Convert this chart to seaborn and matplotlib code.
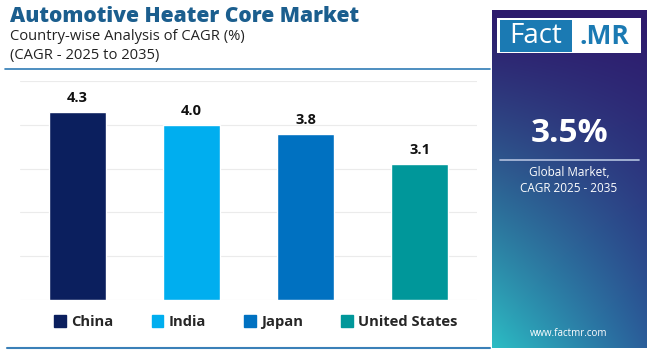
import numpy as np
import pandas as pd
import matplotlib
matplotlib.use("Agg")
import matplotlib.pyplot as plt
import seaborn as sns
from matplotlib.patches import Rectangle, Patch

countries = ["China", "India", "Japan", "United States"]
cagr = [4.3, 4.0, 3.8, 3.1]
colors = ["#0b1f5e", "#00aeef", "#0071c1", "#00979a"]
title = "Automotive Heater Core Market"
subtitle1 = "Country-wise Analysis of CAGR (%)"
subtitle2 = "(CAGR - 2025 to 2035)"
global_cagr = "3.5%"

sns.set_theme(style="white")
plt.rcParams['font.family'] = ['Open Sans', 'DejaVu Sans']

W, H = 650, 350
fig = plt.figure(figsize=(6.5, 3.5), dpi=100)
fig.patch.set_facecolor("white")

def fx(x):
    return x / W
def fy(y):
    return 1 - y / H

# Main axes: x 20-477, y 81-300
ax = fig.add_axes([fx(20), fy(300), (477 - 20) / W, (300 - 81) / H])
df = pd.DataFrame({"country": countries, "cagr": cagr})
sns.barplot(data=df, x="country", y="cagr", hue="country", palette=colors,
            width=0.5, ax=ax, legend=False, saturation=1)
ax.set_ylim(0, 5)
ax.set_xlim(-0.5, 3.5)
ax.set_yticks([0, 1, 2, 3, 4, 5])
ax.yaxis.grid(True, color="#ebebeb", linewidth=0.8)
ax.set_axisbelow(True)
ax.set_xticks([])
ax.set_yticklabels([])
ax.tick_params(left=False, bottom=False)
ax.set_xlabel("")
ax.set_ylabel("")
for s in ax.spines.values():
    s.set_visible(False)
for i, v in enumerate(cagr):
    ax.annotate(f"{v:.1f}", (i, v), xytext=(0, 5), textcoords="offset points",
                ha="center", va="bottom", fontsize=10.5, fontweight="bold", color="#111111")

# Titles
fig.text(fx(10), fy(16), title, fontsize=15.1, fontweight="heavy", color="#1b5e8e",
         ha="left", va="center")
fig.text(fx(10), fy(37), subtitle1, fontsize=10.6, color="#222222", ha="left", va="center")
fig.text(fx(10), fy(56), subtitle2, fontsize=10.6, color="#222222", ha="left", va="center")

# Separator lines
fig.add_artist(plt.Line2D([fx(5), fx(490)], [fy(68.5), fy(68.5)], color="#2f7bb5", lw=1.2))
fig.add_artist(plt.Line2D([fx(7), fx(490)], [fy(348), fy(348)], color="#3a80b8", lw=1.5))

# Legend
handles = [Patch(facecolor=c, edgecolor=c, label=n) for c, n in zip(colors, countries)]
leg = fig.legend(handles=handles, loc="center", bbox_to_anchor=(fx(256), fy(322)),
                 ncol=4, frameon=False, handlelength=0.8, handleheight=0.8,
                 handletextpad=0.35, columnspacing=2.6,
                 prop={"weight": "bold", "size": 10.6})

# Right panel gradient
pax = fig.add_axes([fx(492), fy(348), (647 - 492) / W, (348 - 10) / H])
ny, nx = 200, 100
yy, xx = np.mgrid[0:1:ny * 1j, 0:1:nx * 1j]
top = np.array([0x2e, 0x1a, 0x6c]) / 255
bl = np.array([0x2c, 0xbd, 0xc4]) / 255
br = np.array([0x2a, 0x5e, 0x9a]) / 255
t = yy ** 1.2
bottom = bl[None, None, :] * (1 - xx[..., None]) + br[None, None, :] * xx[..., None]
img = top[None, None, :] * (1 - t[..., None]) + bottom * t[..., None]
pax.imshow(img, aspect="auto", extent=[0, 1, 1, 0], interpolation="bilinear")
pax.set_xlim(0, 1)
pax.set_ylim(1, 0)
pax.axis("off")

# Logo
fig.add_artist(Rectangle((fx(497), fy(53)), (641 - 497) / W, (53 - 18) / H,
                         transform=fig.transFigure, facecolor="white", edgecolor="none"))
fig.add_artist(Rectangle((fx(500), fy(51.5)), (572 - 500) / W, (51.5 - 20) / H,
                         transform=fig.transFigure, facecolor="#1b7ab3", edgecolor="none"))
fig.text(fx(536), fy(36), "Fact", fontsize=20, color="white", ha="center", va="center")
fig.text(fx(604), fy(36), ".MR", fontsize=19, color="#1b7ab3", fontweight="bold",
         ha="center", va="center")

fig.text(fx(569), fy(133), global_cagr, fontsize=24, fontweight="bold", color="white",
         ha="center", va="center")
fig.add_artist(plt.Line2D([fx(500), fx(639)], [fy(160), fy(160)], color="#a9b8d8", lw=1.3))
fig.text(fx(569), fy(173), "Global Market,", fontsize=8.5, color="white", ha="center", va="center")
fig.text(fx(569), fy(189), "CAGR 2025 - 2035", fontsize=8.5, color="white", ha="center", va="center")
fig.text(fx(569), fy(333), "www.factmr.com", fontsize=7, color="white", ha="center", va="center")

fig.savefig("out.png", dpi=100, facecolor="white")
